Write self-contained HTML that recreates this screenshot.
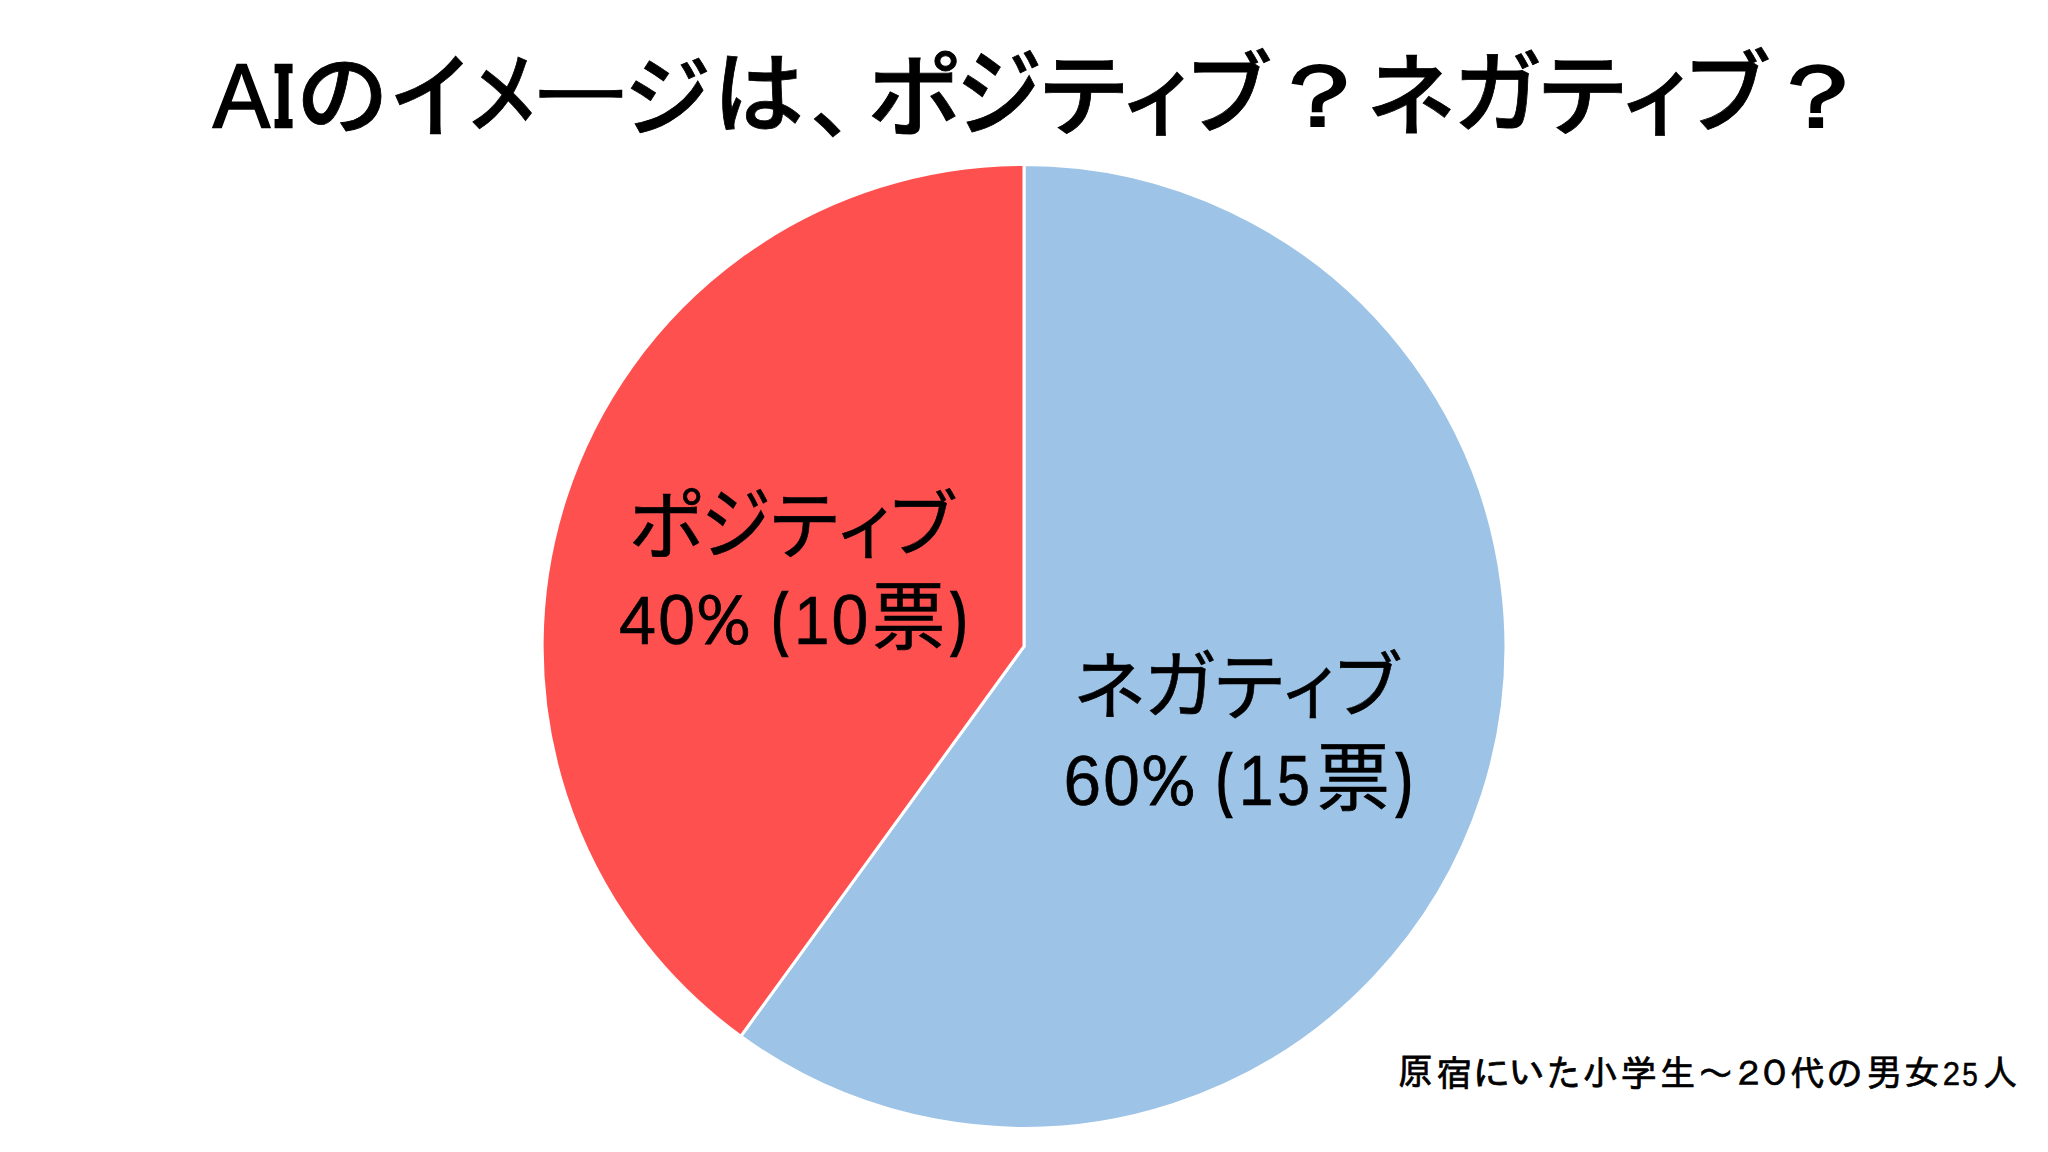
<!DOCTYPE html>
<html lang="ja">
<head>
<meta charset="utf-8">
<title>AIのイメージは、ポジティブ？ネガティブ？</title>
<style>
html,body{margin:0;padding:0;background:#fff;}
body{width:2048px;height:1152px;overflow:hidden;}
svg{display:block;}
text{fill:#000;white-space:pre;}
.f0{font-family:"Liberation Sans", sans-serif;font-weight:400;}
.f1{font-family:"DejaVu Serif", serif;font-weight:700;}
.f2{font-family:"Liberation Sans", "Noto Sans CJK JP", sans-serif;font-weight:500;}
.f3{font-family:"WenQuanYi Zen Hei", sans-serif;font-weight:400;}
.f4{font-family:"Liberation Sans", "Noto Sans CJK JP", sans-serif;font-weight:400;}
.f5{font-family:"Liberation Sans", sans-serif;font-weight:400;}
.f6{font-family:"WenQuanYi Zen Hei", sans-serif;font-weight:400;}
.f7{font-family:"Liberation Sans", "IPAGothic", sans-serif;font-weight:400;}
.f8{font-family:"Liberation Sans", sans-serif;font-weight:400;}
</style>
</head>
<body>
<svg width="2048" height="1152" viewBox="0 0 2048 1152">
<rect width="2048" height="1152" fill="#ffffff"/>
<g id="pie" stroke="#ffffff" stroke-width="3" stroke-linejoin="round">
<path fill="#9dc3e6" d="M1024 646.4 L1024 164.5 A481.9 481.9 0 1 1 740.746 1036.265 Z"/>
<path fill="#ff5050" d="M1024 646.4 L740.746 1036.265 A481.9 481.9 0 0 1 1024 164.5 Z"/>
</g>
<text id="title" aria-label="AIのイメージは、ポジティブ？ネガティブ？"><tspan class="f0" x="212.756" y="127.2" font-size="91.102" textLength="57.439" lengthAdjust="spacingAndGlyphs" stroke="#000" stroke-width="1.6">A</tspan><tspan class="f1" x="273.751" y="125.75" font-size="81.569" textLength="19.6" lengthAdjust="spacingAndGlyphs" stroke="#000" stroke-width="4.5">I</tspan><tspan class="f2" x="296.083" y="126.531" font-size="89.212" textLength="92.889" lengthAdjust="spacingAndGlyphs" stroke="#000" stroke-width="0.8">の</tspan><tspan class="f2" x="389.131" y="129.846" font-size="93.589" textLength="84.011" lengthAdjust="spacingAndGlyphs" stroke="#000" stroke-width="0.8">イ</tspan><tspan class="f2" x="464.648" y="125.075" font-size="88.55" textLength="75.203" lengthAdjust="spacingAndGlyphs" stroke="#000" stroke-width="0.8">メ</tspan><tspan class="f2" x="530.238" y="116.238" font-size="58.3" textLength="101.274" lengthAdjust="spacingAndGlyphs" stroke="#000" stroke-width="0.8">ー</tspan><tspan class="f2" x="623.967" y="128.589" font-size="88.235" textLength="87.098" lengthAdjust="spacingAndGlyphs" stroke="#000" stroke-width="0.8">ジ</tspan><tspan class="f2" x="713.124" y="125.086" font-size="88.238" textLength="90.81" lengthAdjust="spacingAndGlyphs" stroke="#000" stroke-width="0.8">は</tspan><tspan class="f2" x="810.29" y="131.515" font-size="81.908" textLength="85.285" lengthAdjust="spacingAndGlyphs" stroke="#000" stroke-width="0.8">、</tspan><tspan class="f2" x="867.341" y="129.402" font-size="91.477" textLength="95.149" lengthAdjust="spacingAndGlyphs" stroke="#000" stroke-width="0.8">ポ</tspan><tspan class="f2" x="955.991" y="128.216" font-size="96.448" textLength="86.325" lengthAdjust="spacingAndGlyphs" stroke="#000" stroke-width="0.8">ジ</tspan><tspan class="f2" x="1036.956" y="127.958" font-size="90.078" textLength="93.031" lengthAdjust="spacingAndGlyphs" stroke="#000" stroke-width="0.8">テ</tspan><tspan class="f2" x="1119.214" y="127.698" font-size="89.676" textLength="80.473" lengthAdjust="spacingAndGlyphs" stroke="#000" stroke-width="0.8">ィ</tspan><tspan class="f2" x="1184.147" y="125.76" font-size="89.575" textLength="87.959" lengthAdjust="spacingAndGlyphs" stroke="#000" stroke-width="0.8">ブ</tspan><tspan class="f3" x="1262.9" y="126.4" font-size="87.361" textLength="111.95" lengthAdjust="spacingAndGlyphs" stroke="#000" stroke-width="2.2">？</tspan><tspan class="f2" x="1366.569" y="127.95" font-size="90.2" textLength="89.362" lengthAdjust="spacingAndGlyphs" stroke="#000" stroke-width="0.8">ネ</tspan><tspan class="f2" x="1453.039" y="124.723" font-size="89.87" textLength="89.618" lengthAdjust="spacingAndGlyphs" stroke="#000" stroke-width="0.8">ガ</tspan><tspan class="f2" x="1535.68" y="127.958" font-size="90.078" textLength="93.33" lengthAdjust="spacingAndGlyphs" stroke="#000" stroke-width="0.8">テ</tspan><tspan class="f2" x="1618.503" y="127.698" font-size="89.676" textLength="80.117" lengthAdjust="spacingAndGlyphs" stroke="#000" stroke-width="0.8">ィ</tspan><tspan class="f2" x="1682.596" y="125.495" font-size="89.847" textLength="88.42" lengthAdjust="spacingAndGlyphs" stroke="#000" stroke-width="0.8">ブ</tspan><tspan class="f3" x="1761.536" y="127" font-size="88.568" textLength="111.927" lengthAdjust="spacingAndGlyphs" stroke="#000" stroke-width="2.2">？</tspan></text>
<text id="pos1" aria-label="ポジティブ"><tspan class="f4" x="628.494" y="552.912" font-size="75.78" textLength="77.178" lengthAdjust="spacingAndGlyphs" stroke="#000" stroke-width="0.6">ポ</tspan><tspan class="f4" x="701.051" y="551.86" font-size="79.559" textLength="70.178" lengthAdjust="spacingAndGlyphs" stroke="#000" stroke-width="0.6">ジ</tspan><tspan class="f4" x="767.485" y="552.966" font-size="74.754" textLength="73.957" lengthAdjust="spacingAndGlyphs" stroke="#000" stroke-width="0.6">テ</tspan><tspan class="f4" x="834.327" y="552.038" font-size="72.989" textLength="66.247" lengthAdjust="spacingAndGlyphs" stroke="#000" stroke-width="0.6">ィ</tspan><tspan class="f4" x="885.765" y="549.92" font-size="71.82" textLength="72.081" lengthAdjust="spacingAndGlyphs" stroke="#000" stroke-width="0.6">ブ</tspan></text>
<text id="pos2" aria-label="40% (10票)"><tspan class="f5" x="619.114" y="643.7" font-size="68.974" textLength="37.006" lengthAdjust="spacingAndGlyphs" stroke="#000" stroke-width="0.6">4</tspan><tspan class="f5" x="658.143" y="643.774" font-size="70.37" textLength="36.747" lengthAdjust="spacingAndGlyphs" stroke="#000" stroke-width="0.6">0</tspan><tspan class="f6" x="697.251" y="643.67" font-size="70.652" textLength="52.45" lengthAdjust="spacingAndGlyphs" stroke="#000" stroke-width="0.8">%</tspan><tspan> </tspan><tspan class="f5" x="772.652" y="640.956" font-size="66.473" textLength="13.262" lengthAdjust="spacingAndGlyphs" stroke="#000" stroke-width="4.5">(</tspan><tspan class="f5" x="793.88" y="643.7" font-size="68.974" textLength="35.486" lengthAdjust="spacingAndGlyphs" stroke="#000" stroke-width="0.6">1</tspan><tspan class="f5" x="831.439" y="643.774" font-size="70.37" textLength="36.856" lengthAdjust="spacingAndGlyphs" stroke="#000" stroke-width="0.6">0</tspan><tspan class="f4" x="872.105" y="643.454" font-size="74.324" textLength="73.241" lengthAdjust="spacingAndGlyphs" stroke="#000" stroke-width="0.6">票</tspan><tspan class="f5" x="952.582" y="640.956" font-size="66.473" textLength="13.601" lengthAdjust="spacingAndGlyphs" stroke="#000" stroke-width="4.5">)</tspan></text>
<text id="neg1" aria-label="ネガティブ"><tspan class="f4" x="1072.864" y="712.991" font-size="74.273" textLength="73.899" lengthAdjust="spacingAndGlyphs" stroke="#000" stroke-width="0.6">ネ</tspan><tspan class="f4" x="1143.551" y="711.665" font-size="74.771" textLength="74.049" lengthAdjust="spacingAndGlyphs" stroke="#000" stroke-width="0.6">ガ</tspan><tspan class="f4" x="1211.936" y="713.555" font-size="74.007" textLength="74.547" lengthAdjust="spacingAndGlyphs" stroke="#000" stroke-width="0.6">テ</tspan><tspan class="f4" x="1279.129" y="712.449" font-size="72.845" textLength="65.362" lengthAdjust="spacingAndGlyphs" stroke="#000" stroke-width="0.6">ィ</tspan><tspan class="f4" x="1330.914" y="710.693" font-size="71.386" textLength="71.671" lengthAdjust="spacingAndGlyphs" stroke="#000" stroke-width="0.6">ブ</tspan></text>
<text id="neg2" aria-label="60% (15票)"><tspan class="f5" x="1063.517" y="804.667" font-size="70.933" textLength="37.604" lengthAdjust="spacingAndGlyphs" stroke="#000" stroke-width="0.6">6</tspan><tspan class="f5" x="1103.249" y="804.667" font-size="70.933" textLength="36.533" lengthAdjust="spacingAndGlyphs" stroke="#000" stroke-width="0.6">0</tspan><tspan class="f6" x="1141.945" y="804.561" font-size="71.356" textLength="52.511" lengthAdjust="spacingAndGlyphs" stroke="#000" stroke-width="0.8">%</tspan><tspan> </tspan><tspan class="f5" x="1217.365" y="801.878" font-size="66.366" textLength="13.064" lengthAdjust="spacingAndGlyphs" stroke="#000" stroke-width="4.5">(</tspan><tspan class="f5" x="1238.658" y="804.7" font-size="69.547" textLength="34.76" lengthAdjust="spacingAndGlyphs" stroke="#000" stroke-width="0.6">1</tspan><tspan class="f5" x="1277.008" y="804.668" font-size="70.838" textLength="33.011" lengthAdjust="spacingAndGlyphs" stroke="#000" stroke-width="0.6">5</tspan><tspan class="f4" x="1316.813" y="804.465" font-size="74.212" textLength="73.025" lengthAdjust="spacingAndGlyphs" stroke="#000" stroke-width="0.6">票</tspan><tspan class="f5" x="1397.634" y="801.878" font-size="66.366" textLength="13.596" lengthAdjust="spacingAndGlyphs" stroke="#000" stroke-width="4.5">)</tspan></text>
<text id="foot" aria-label="原宿にいた小学生～２０代の男女25人"><tspan class="f7" x="1397.984" y="1084.381" font-size="37.173" textLength="34.977" lengthAdjust="spacingAndGlyphs" stroke="#000" stroke-width="0.7">原</tspan><tspan class="f7" x="1436.271" y="1085.729" font-size="36.021" textLength="36.321" lengthAdjust="spacingAndGlyphs" stroke="#000" stroke-width="0.7">宿</tspan><tspan class="f7" x="1471.772" y="1085.878" font-size="35.979" textLength="39.293" lengthAdjust="spacingAndGlyphs" stroke="#000" stroke-width="0.7">に</tspan><tspan class="f7" x="1508.539" y="1085.25" font-size="35.964" textLength="37.217" lengthAdjust="spacingAndGlyphs" stroke="#000" stroke-width="0.7">い</tspan><tspan class="f7" x="1546.542" y="1086.627" font-size="37.835" textLength="34.215" lengthAdjust="spacingAndGlyphs" stroke="#000" stroke-width="0.7">た</tspan><tspan class="f7" x="1582.134" y="1086.084" font-size="36.364" textLength="36.383" lengthAdjust="spacingAndGlyphs" stroke="#000" stroke-width="0.7">小</tspan><tspan class="f7" x="1620.985" y="1085.729" font-size="36.021" textLength="35.53" lengthAdjust="spacingAndGlyphs" stroke="#000" stroke-width="0.7">学</tspan><tspan class="f7" x="1659.504" y="1086.175" font-size="36.075" textLength="35.993" lengthAdjust="spacingAndGlyphs" stroke="#000" stroke-width="0.7">生</tspan><tspan class="f7" x="1697.629" y="1086.761" font-size="37.411" textLength="35.842" lengthAdjust="spacingAndGlyphs" stroke="#000" stroke-width="0.7">～</tspan><tspan class="f7" x="1731.298" y="1085.836" font-size="32.771" textLength="34.554" lengthAdjust="spacingAndGlyphs" stroke="#000" stroke-width="0.7">２</tspan><tspan class="f7" x="1756.203" y="1086.471" font-size="34.093" textLength="36.643" lengthAdjust="spacingAndGlyphs" stroke="#000" stroke-width="0.7">０</tspan><tspan class="f7" x="1790.199" y="1085.509" font-size="35.655" textLength="34.947" lengthAdjust="spacingAndGlyphs" stroke="#000" stroke-width="0.7">代</tspan><tspan class="f7" x="1826.116" y="1086.55" font-size="36.726" textLength="36.819" lengthAdjust="spacingAndGlyphs" stroke="#000" stroke-width="0.7">の</tspan><tspan class="f7" x="1865.46" y="1086.098" font-size="37.636" textLength="36.773" lengthAdjust="spacingAndGlyphs" stroke="#000" stroke-width="0.7">男</tspan><tspan class="f7" x="1903.999" y="1085.259" font-size="34.982" textLength="36.353" lengthAdjust="spacingAndGlyphs" stroke="#000" stroke-width="0.7">女</tspan><tspan class="f8" x="1942.79" y="1085.35" font-size="33.727" textLength="17.307" lengthAdjust="spacingAndGlyphs" stroke="#000" stroke-width="0.5">2</tspan><tspan class="f8" x="1962.152" y="1085.65" font-size="33.442" textLength="15.575" lengthAdjust="spacingAndGlyphs" stroke="#000" stroke-width="0.5">5</tspan><tspan class="f7" x="1982.436" y="1086.162" font-size="36.769" textLength="35.129" lengthAdjust="spacingAndGlyphs" stroke="#000" stroke-width="0.7">人</tspan></text>
</svg>
</body>
</html>
